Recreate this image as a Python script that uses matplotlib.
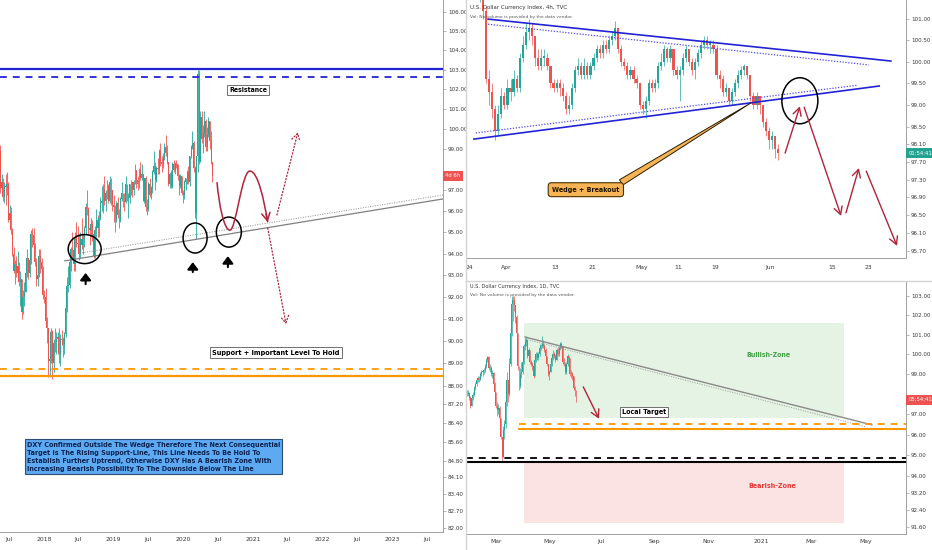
import numpy as np
import pandas as pd
import matplotlib
matplotlib.use('Agg')
import matplotlib.pyplot as plt
import matplotlib.dates as mdates
import matplotlib.transforms as mtransforms
import matplotlib.text as mtext
from matplotlib.patches import Ellipse, Rectangle, PathPatch
from matplotlib.path import Path
from matplotlib.lines import Line2D
from matplotlib.ticker import FixedLocator, FixedFormatter, NullLocator
from matplotlib import font_manager as fm

# ======================= DATA =======================
# ---- left panel: weekly DXY candles (week starting dates) ----
w_start = '2017-05-15'
w_open0 = 98.9
w_close = [97.1, 97.4, 96.7, 97.2, 97.15, 97.3, 95.6, 95.9, 95.1, 94.0,
           93.2, 93.5, 93.1, 93.4, 92.7, 92.8, 91.3, 92.0, 92.2, 93.1,
           93.8, 93.1, 93.7, 94.9, 94.85, 94.4, 93.6, 92.8, 93.0, 93.9,
           93.6, 93.3, 92.1, 92.0, 90.9, 90.6, 89.1, 89.2, 90.4, 89.0,
           89.9, 89.95, 90.1, 90.2, 89.4, 90.1, 90.05, 89.8, 90.3, 91.5,
           92.5, 92.55, 93.6, 94.2, 94.15, 93.5, 94.8, 94.5, 94.45, 94.0,
           94.7, 94.4, 94.7, 95.2, 96.2, 96.1, 95.2, 95.1, 95.4, 94.9,
           93.9, 95.1, 95.6, 95.2, 95.7, 96.4, 96.5, 97.0, 96.5, 96.9,
           97.2, 96.5, 97.4, 97.0, 96.3, 96.2, 95.6, 96.4, 95.8, 95.6,
           96.6, 96.9, 96.5, 96.45, 97.3, 96.6, 96.65, 97.3, 97.4, 97.0,
           97.4, 98.0, 97.5, 97.3, 98.0, 97.6, 97.8, 96.5, 97.6, 96.2,
           96.1, 97.3, 96.8, 97.1, 97.9, 98.2, 97.5, 98.1, 98.05, 98.9,
           98.4, 98.3, 98.6, 99.1, 98.8, 98.4, 97.3, 97.8, 97.2, 98.3,
           98.0, 98.3, 98.27, 97.7, 97.2, 97.7, 96.9, 96.8, 97.4, 97.6,
           97.9, 97.4, 98.7, 99.1, 99.3, 98.1, 95.9, 98.7, 102.8, 98.4,
           100.6, 99.5, 99.8, 100.4, 99.1, 99.7, 100.4, 99.4, 98.4, 97.7]
w_high = [99.2, 97.8, 97.6, 97.4, 97.8, 97.9, 97.4, 96.3, 96.2, 95.2,
          94.3, 93.7, 93.9, 94.1, 93.6, 93.2, 92.8, 92.3, 92.7, 93.5,
          94.2, 93.8, 93.9, 95.1, 95.2, 95.2, 94.5, 93.8, 93.3, 94.2,
          94.2, 93.8, 93.4, 92.3, 92.4, 91.1, 90.6, 89.5, 90.6, 90.5,
          90.1, 90.6, 90.4, 90.4, 90.6, 90.3, 90.5, 90.2, 90.4, 91.8,
          92.9, 93.4, 93.7, 94.3, 95.0, 94.2, 95.0, 95.5, 95.3, 94.9,
          95.0, 95.7, 94.9, 95.3, 96.4, 97.0, 96.2, 95.3, 95.7, 95.6,
          95.0, 95.3, 96.1, 95.8, 96.0, 96.7, 97.2, 97.3, 97.7, 97.0,
          97.5, 97.3, 97.7, 97.6, 97.0, 96.8, 96.3, 96.5, 96.7, 96.1,
          96.7, 97.4, 96.9, 96.9, 97.7, 97.3, 96.9, 97.3, 97.5, 97.4,
          97.5, 98.3, 98.0, 97.7, 98.1, 98.4, 98.3, 97.8, 97.6, 97.7,
          96.6, 97.4, 97.6, 97.2, 98.0, 98.9, 98.4, 98.2, 98.6, 99.0,
          99.3, 98.7, 98.8, 99.3, 99.7, 99.2, 98.4, 97.9, 98.0, 98.4,
          98.5, 98.4, 98.5, 98.3, 97.8, 97.8, 97.7, 97.0, 97.5, 97.6,
          98.0, 98.2, 98.7, 99.2, 99.9, 99.4, 98.2, 98.7, 103.0, 103.0,
          100.9, 100.9, 100.2, 100.9, 100.5, 100.1, 100.6, 100.4, 99.9, 98.4]
w_low = [96.9, 96.8, 96.5, 96.4, 96.3, 96.8, 95.5, 95.4, 94.9, 93.9,
         93.1, 92.6, 92.9, 93.0, 92.5, 91.6, 91.0, 91.2, 91.6, 92.2,
         92.9, 92.8, 92.9, 93.5, 94.3, 94.1, 93.4, 92.5, 92.5, 92.9,
         93.1, 93.0, 91.9, 91.7, 90.8, 89.9, 88.4, 88.4, 89.0, 88.3,
         88.6, 89.5, 89.4, 89.4, 89.0, 88.9, 89.8, 89.3, 89.4, 90.2,
         91.3, 92.2, 92.4, 93.2, 93.7, 93.2, 93.2, 94.3, 94.2, 93.7,
         93.8, 94.2, 94.0, 94.3, 94.9, 95.8, 94.9, 94.4, 94.8, 94.6,
         93.8, 93.8, 94.8, 94.8, 94.8, 95.6, 96.0, 95.9, 96.3, 96.0,
         96.6, 96.4, 96.4, 96.3, 96.0, 95.5, 95.0, 95.5, 95.7, 95.2,
         95.5, 96.5, 96.2, 96.0, 96.4, 96.5, 95.7, 96.4, 96.8, 96.7,
         96.8, 97.3, 97.1, 97.0, 97.1, 97.5, 97.5, 96.5, 96.4, 96.0,
         95.8, 96.0, 96.7, 96.6, 96.9, 97.8, 97.0, 97.4, 97.8, 97.8,
         98.2, 97.9, 98.1, 98.5, 98.7, 98.3, 97.2, 97.1, 97.1, 97.1,
         97.9, 97.8, 98.1, 97.5, 96.8, 97.1, 96.8, 96.4, 96.6, 97.0,
         97.3, 97.3, 97.2, 98.6, 99.0, 97.9, 95.7, 94.7, 97.9, 98.3,
         98.4, 99.3, 98.8, 99.6, 98.9, 98.9, 99.6, 99.0, 98.3, 97.4]

# ---- top-right panel: intraday candles (2 per trading day from 2020-03-24) ----
h_start = '2020-03-24'
h_open0 = 102.3
h_close = [101.9, 102.1, 101.8, 101.9, 101.2, 99.6, 99.3, 98.9, 98.4, 98.8,
           99.2, 99.0, 99.4, 99.3, 99.6, 99.4, 100.1, 100.4, 100.7, 100.8,
           100.6, 100.1, 99.9, 100.1, 100.1, 99.9, 99.5, 99.4, 99.5, 99.4,
           99.2, 98.9, 99.0, 99.4, 99.8, 99.9, 99.7, 99.9, 99.7, 99.9,
           100.1, 100.3, 100.2, 100.4, 100.3, 100.5, 100.6, 100.8, 100.3, 100.0,
           99.9, 99.7, 99.8, 99.6, 99.5, 99.0, 98.9, 99.1, 99.5, 99.4,
           99.5, 99.9, 100.0, 100.3, 100.1, 100.3, 99.8, 99.7, 99.8, 100.1,
           100.3, 100.0, 99.8, 100.0, 100.2, 100.4, 100.5, 100.4, 100.4, 100.3,
           99.7, 99.6, 99.3, 99.4, 99.1, 99.3, 99.5, 99.7, 99.8, 99.9,
           99.7, 99.2, 99.0, 99.2, 99.0, 98.6, 98.4, 98.2, 98.3, 98.0, 97.9]
h_high = [102.5, 102.3, 102.2, 102.0, 101.9, 101.3, 99.8, 99.5, 99.0, 99.0,
          99.4, 99.3, 99.6, 99.6, 99.8, 99.7, 100.2, 100.6, 100.9, 101.0,
          100.9, 100.6, 100.3, 100.3, 100.3, 100.2, 99.9, 99.6, 99.6, 99.6,
          99.5, 99.3, 99.2, 99.5, 99.9, 100.1, 100.0, 100.1, 100.0, 100.0,
          100.2, 100.4, 100.4, 100.5, 100.5, 100.6, 100.7, 100.95, 100.8, 100.4,
          100.1, 100.0, 99.9, 99.9, 99.7, 99.5, 99.1, 99.2, 99.6, 99.6,
          99.6, 100.0, 100.2, 100.4, 100.35, 100.4, 100.3, 99.9, 99.9, 100.2,
          100.4, 100.3, 100.1, 100.1, 100.3, 100.5, 100.6, 100.6, 100.5, 100.5,
          100.4, 99.8, 99.7, 99.5, 99.4, 99.4, 99.6, 99.8, 99.9, 99.95,
          99.9, 99.7, 99.3, 99.3, 99.2, 99.0, 98.7, 98.5, 98.4, 98.3, 98.1]
h_low = [101.6, 101.6, 101.6, 101.4, 101.0, 99.5, 99.0, 98.7, 98.2, 98.3,
         98.7, 98.9, 98.9, 99.1, 99.2, 99.3, 99.3, 100.0, 100.3, 100.5,
         100.4, 99.9, 99.8, 99.8, 99.9, 99.8, 99.4, 99.3, 99.3, 99.2,
         99.1, 98.8, 98.8, 98.9, 99.3, 99.7, 99.6, 99.6, 99.6, 99.6,
         99.8, 100.0, 100.1, 100.1, 100.2, 100.2, 100.4, 100.5, 100.2, 99.9,
         99.8, 99.6, 99.6, 99.5, 99.4, 98.9, 98.8, 98.7, 99.0, 99.3,
         99.3, 99.4, 99.8, 99.9, 100.0, 100.0, 99.7, 99.6, 99.1, 99.7,
         100.0, 99.9, 99.7, 99.6, 99.9, 100.1, 100.3, 100.3, 100.2, 100.2,
         99.6, 99.4, 99.2, 99.2, 99.0, 99.0, 99.2, 99.4, 99.6, 99.7,
         99.6, 99.1, 98.9, 98.9, 98.8, 98.5, 98.3, 98.0, 98.0, 97.8, 97.75]

# ---- bottom-right panel: daily candles ----
d_start, d_end = '2020-01-23', '2020-06-02'
d_open0 = 97.7
d_close = [97.86, 97.87, 97.98, 98.0, 98.05, 97.8, 97.39,
           97.8, 97.97, 98.3, 98.5, 98.7, 98.8, 98.7, 99.0, 99.1, 99.1,
           99.2, 99.4, 99.7, 99.85, 99.3, 99.3, 99.0, 99.05, 98.5, 98.1,
           97.4, 97.2, 97.3, 96.8, 95.9, 94.9, 96.2, 96.5, 97.6, 98.7,
           98.0, 99.5, 101.1, 102.6, 102.8, 102.5, 101.9, 101.1, 99.4, 98.4,
           99.0, 99.1, 99.6, 100.4, 100.6, 100.7, 99.9, 100.2, 99.6, 99.5,
           99.4, 98.9, 99.7, 100.0, 99.8, 100.0, 100.3, 100.4, 100.5, 100.4,
           100.2, 99.9, 99.5, 99.0, 99.1, 99.5, 99.8, 100.0, 99.9, 99.7,
           100.2, 100.0, 100.3, 100.5, 100.4, 99.6, 99.5, 99.1, 99.5, 99.9,
           99.8, 99.0, 99.0, 98.9, 98.3, 98.2, 97.7]
d_high = [97.95, 98.1, 98.1, 98.2, 98.2, 98.1, 97.9,
          97.9, 98.1, 98.4, 98.6, 98.8, 98.9, 98.9, 99.1, 99.2, 99.2,
          99.3, 99.5, 99.8, 99.9, 99.9, 99.5, 99.4, 99.2, 99.1, 98.6,
          98.0, 97.6, 97.5, 97.4, 96.8, 95.9, 96.4, 96.7, 97.9, 99.1,
          98.6, 99.8, 101.5, 103.0, 103.0, 103.0, 102.5, 102.0, 101.1, 99.4,
          99.3, 99.6, 99.7, 100.5, 100.8, 100.9, 100.7, 100.3, 100.2, 99.7,
          99.6, 99.4, 99.8, 100.1, 100.1, 100.1, 100.5, 100.5, 100.9, 100.7,
          100.5, 100.3, 99.9, 99.5, 99.2, 99.6, 99.9, 100.2, 100.1, 100.0,
          100.3, 100.3, 100.4, 100.6, 100.6, 100.4, 99.8, 99.6, 99.6, 100.0,
          99.9, 99.8, 99.2, 99.1, 98.9, 98.4, 98.2]
d_low = [97.6, 97.7, 97.8, 97.9, 97.9, 97.7, 97.3,
         97.4, 97.7, 97.9, 98.2, 98.4, 98.6, 98.6, 98.7, 98.9, 98.9,
         99.0, 99.1, 99.3, 99.6, 99.2, 99.1, 98.9, 98.8, 98.4, 97.9,
         97.3, 96.9, 97.0, 96.6, 95.8, 94.65, 94.9, 95.8, 96.3, 97.4,
         97.6, 97.9, 99.4, 100.9, 101.7, 102.2, 101.6, 100.9, 99.2, 98.2,
         98.3, 98.8, 99.0, 99.5, 100.2, 100.4, 99.8, 99.8, 99.5, 99.4,
         99.2, 98.8, 98.9, 99.6, 99.7, 99.7, 99.9, 100.2, 100.3, 100.3,
         100.1, 99.8, 99.4, 98.9, 98.7, 99.1, 99.4, 99.7, 99.8, 99.6,
         99.7, 99.9, 99.9, 100.2, 100.3, 99.5, 99.4, 99.0, 99.0, 99.4,
         99.7, 98.9, 98.8, 98.7, 98.2, 97.9, 97.6]

# ---- tick values ----
L_yticks = [106, 105, 104, 103, 102, 101, 100, 99, 97, 96, 95, 94, 93, 92, 91,
            90, 89, 88, 87.2, 86.4, 85.6, 84.8, 84.1, 83.4, 82.7, 82.0]
L_xtick_dates = ['2017-07-01', '2018-01-01', '2018-07-01', '2019-01-01', '2019-07-01',
                 '2020-01-01', '2020-07-01', '2021-01-01', '2021-07-01', '2022-01-01',
                 '2022-07-01', '2023-01-01', '2023-07-01']
T_yticks = [101, 100.5, 100, 99.5, 99, 98.5, 98.1, 97.7, 97.3, 96.9, 96.5, 96.1, 95.7]
T_xtick_dates = ['2020-03-24', '2020-04-01', '2020-04-13', '2020-04-21', '2020-05-01',
                 '2020-05-11', '2020-05-19', '2020-06-01', '2020-06-15', '2020-06-23']
B_yticks = [103, 102, 101, 100, 99, 97, 96, 95, 94, 93.2, 92.4, 91.6]
B_xtick_dates = ['2020-03-01', '2020-05-01', '2020-07-01', '2020-09-01', '2020-11-01',
                 '2021-01-01', '2021-03-01', '2021-05-01']

# ---- annotation anchors (date / bar index, price) ----
L_res_levels = [103.02, 102.65]
L_sup_levels = [88.76, 88.43]
L_trend = [('2018-04-21', 93.66), ('2023-09-25', 96.59)]
L_trend_dot = [('2018-07-08', 94.02), ('2023-09-25', 96.78)]
L_circles = [('2018-08-03', 94.21), ('2020-03-04', 94.73), ('2020-08-28', 95.01)]
L_uparrows = [('2018-08-08', 92.58, 93.10), ('2020-02-21', 93.14, 93.60), ('2020-08-23', 93.37, 93.88)]
L_curve = [('2020-06-27', 97.40), ('2020-07-07', 96.30), ('2020-08-03', 95.10), ('2020-09-03', 95.10),
           ('2020-10-04', 95.10), ('2020-11-04', 97.94), ('2020-12-16', 97.94),
           ('2021-01-28', 97.94), ('2021-02-28', 96.54), ('2021-03-20', 95.48)]
L_curve_head = ('2021-03-11', 95.87)
L_dot_up = [('2021-05-07', 95.82), ('2021-08-25', 99.85)]
L_dot_dn = [('2021-03-20', 95.20), ('2021-06-24', 90.76)]
L_res_label = ('2020-12-06', 101.98)
L_sup_label = ('2021-05-01', 89.48)
L_note_anchor = ('2017-10-04', 84.97)

T_upper = [(3.1, 101.0), (68.6, 100.02)]
T_upper_dot = [(3.1, 100.88), (65.0, 99.93)]
T_lower = [(0.8, 98.22), (66.7, 99.44)]
T_lower_dot = [(1.1, 98.36), (63.25, 99.46)]
T_circle = (53.8, 99.10)
T_zigzag = [((51.4, 97.90), (53.8, 98.97)), ((54.5, 98.95), (60.5, 96.48)),
            ((61.3, 96.55), (63.4, 97.56)), ((64.6, 97.49), (69.6, 95.81))]
T_wedge_label = (19.0, 97.07)
T_wedge_tip = (45.85, 99.05)

B_bull = (('2020-04-02', 96.81), ('2021-04-07', 101.6))
B_bear = (('2020-04-02', 91.78), ('2021-04-07', 94.67))
B_trend = [('2020-04-03', 100.87), ('2021-05-10', 96.47)]
B_trend_dot = [('2020-04-03', 100.77), ('2021-05-03', 96.38)]
B_orange_start = '2020-03-27'
B_orange_levels = [96.52, 96.29]
B_black_levels = [94.85, 94.69]
B_local_label = ('2020-08-19', 97.11)
B_arrow = [('2020-06-10', 98.35), ('2020-06-29', 96.77)]
B_bull_label = ('2021-01-11', 99.96)
B_bear_label = ('2021-01-14', 93.52)

# ======================= STYLE / HELPERS =======================
GREEN, RED = '#26a69a', '#ef5350'
AX_TXT, SPINE = '#3a3a3a', '#a0a0a0'
BLUE, BLUE_DOT = '#2323d6', '#4a4af0'
ORANGE = '#ff9800'
ARROW_RED = '#b0243a'

_fonts = fm.fontManager.ttflist
if any(f.name == 'Liberation Sans Narrow' for f in _fonts):
    NOTE_KW = dict(family='Liberation Sans Narrow', weight='bold')
elif any(f.name == 'DejaVu Sans' and f.stretch == 'condensed' for f in _fonts):
    NOTE_KW = dict(family='DejaVu Sans', stretch='condensed', weight='bold')
else:
    NOTE_KW = dict(family='DejaVu Sans', weight='bold')

fig = plt.figure(figsize=(9.32, 5.5), dpi=100)
fig.patch.set_facecolor('white')
FW, FH = 932.0, 550.0
axL = fig.add_axes([0, (FH - 532) / FH, 443 / FW, 532 / FH])
axT = fig.add_axes([466 / FW, (FH - 258) / FH, 440 / FW, 258 / FH])
axB = fig.add_axes([466 / FW, (FH - 534) / FH, 440 / FW, 252 / FH])


def style_axis(ax, yticks, xpad):
    ax.set_yscale('log')
    ax.yaxis.tick_right()
    ax.yaxis.set_major_locator(FixedLocator(yticks))
    ax.yaxis.set_major_formatter(FixedFormatter([f'{v:.2f}' for v in yticks]))
    ax.yaxis.set_minor_locator(NullLocator())
    ax.tick_params(axis='y', which='major', labelsize=4.1, labelcolor=AX_TXT,
                   length=2, width=0.5, pad=1.5, color=SPINE)
    ax.tick_params(axis='x', which='major', labelsize=4.4, labelcolor=AX_TXT,
                   length=0, pad=xpad)
    for s in ('top', 'left'):
        ax.spines[s].set_visible(False)
    for s in ('right', 'bottom'):
        ax.spines[s].set_color(SPINE)
        ax.spines[s].set_linewidth(0.7)


def draw_candles(ax, x, o, c, h, l, width, lw):
    o = np.asarray(o, float); c = np.asarray(c, float)
    h = np.maximum(np.asarray(h, float), np.maximum(o, c))
    l = np.minimum(np.asarray(l, float), np.minimum(o, c))
    col = np.where(c >= o, GREEN, RED)
    ax.vlines(x, l, h, colors=col, lw=lw, zorder=2)
    body = np.maximum(np.abs(c - o), 0.03)
    ax.bar(x, body, bottom=np.minimum(o, c), width=width, color=col, lw=0, zorder=2.1)


def px_ellipse(ax, x, y, wpx, hpx, lw=1.1):
    tr = fig.dpi_scale_trans + mtransforms.ScaledTranslation(x, y, ax.transData)
    ax.add_patch(Ellipse((0, 0), wpx / fig.dpi, hpx / fig.dpi, transform=tr,
                         fill=False, ec='black', lw=lw, zorder=6, clip_on=False))


def arrow(ax, p0, p1, color, lw=1.0, ls='-', style='->,head_width=0.25,head_length=0.5'):
    ax.annotate('', xy=p1, xytext=p0,
                arrowprops=dict(arrowstyle=style, color=color, lw=lw, ls=ls,
                                shrinkA=0, shrinkB=0, mutation_scale=10), zorder=6)


def price_tag(ax, price, text, color):
    tr = mtransforms.blended_transform_factory(ax.transAxes, ax.transData)
    ax.text(1.005, price, text, transform=tr, ha='left', va='center', fontsize=3.8,
            color='white', bbox=dict(boxstyle='square,pad=0.45', fc=color, ec='none'),
            clip_on=False, zorder=10)


D = lambda s: mdates.date2num(pd.Timestamp(s))
fit_list = []

# ======================= LEFT PANEL =======================
style_axis(axL, L_yticks, 3.5)
w_dates = pd.date_range(w_start, periods=len(w_close), freq='W-MON')
wx = mdates.date2num(w_dates) + 2
w_open = np.r_[w_open0, w_close[:-1]]
draw_candles(axL, wx, w_open, w_close, w_high, w_low, 5.0, 0.6)
axL.set_xlim(D('2017-05-16'), D('2023-09-25'))
axL.set_ylim(81.84, 106.64)
xt = pd.to_datetime(L_xtick_dates)
axL.xaxis.set_major_locator(FixedLocator(mdates.date2num(xt)))
axL.xaxis.set_major_formatter(FixedFormatter([str(d.year) if d.month == 1 else d.strftime('%b') for d in xt]))

axL.axhline(L_res_levels[0], color=BLUE, lw=1.6, zorder=3)
axL.axhline(L_res_levels[1], color=BLUE, lw=1.3, dashes=(3.8, 3.3), zorder=3)
axL.axhline(L_sup_levels[0], color=ORANGE, lw=1.3, dashes=(3.8, 3.3), zorder=3)
axL.axhline(L_sup_levels[1], color=ORANGE, lw=1.6, zorder=3)
axL.plot([D(d) for d, _ in L_trend], [p for _, p in L_trend], color='#7f7f7f', lw=0.9, zorder=3)
axL.plot([D(d) for d, _ in L_trend_dot], [p for _, p in L_trend_dot], color='#8c8c8c', lw=0.7,
         ls=(0, (1, 1.5)), zorder=3)
for (d, p), (w, h) in zip(L_circles, [(33, 29), (24, 30), (25, 30)]):
    px_ellipse(axL, D(d), p, w, h)
for d, p0, p1 in L_uparrows:
    arrow(axL, (D(d), p0), (D(d), p1), 'black', lw=1.5,
          style='-|>,head_width=0.32,head_length=0.42')
verts = [(D(d), p) for d, p in L_curve]
codes = [Path.MOVETO] + [Path.CURVE4] * 9
axL.add_patch(PathPatch(Path(verts, codes), fill=False, ec=ARROW_RED, lw=1.1, zorder=6))
arrow(axL, (D(L_curve_head[0]), L_curve_head[1]), verts[-1], ARROW_RED, lw=1.1,
      style='->,head_width=0.3,head_length=0.55')
arrow(axL, (D(L_dot_up[0][0]), L_dot_up[0][1]), (D(L_dot_up[1][0]), L_dot_up[1][1]),
      ARROW_RED, lw=0.9, ls=':', style='->,head_width=0.3,head_length=0.5')
arrow(axL, (D(L_dot_dn[0][0]), L_dot_dn[0][1]), (D(L_dot_dn[1][0]), L_dot_dn[1][1]),
      ARROW_RED, lw=0.9, ls=':', style='->,head_width=0.3,head_length=0.5')

t = axL.text(D(L_res_label[0]), L_res_label[1], 'Resistance', ha='center', va='center',
             fontsize=7, color='black', zorder=8,
             bbox=dict(boxstyle='square,pad=0.3', fc='white', ec='#6f6f6f', lw=0.7), **NOTE_KW)
fit_list.append((t, 38))
t = axL.text(D(L_sup_label[0]), L_sup_label[1], 'Support + Important Level To Hold', ha='center',
             va='center', fontsize=7, color='black', zorder=8,
             bbox=dict(boxstyle='square,pad=0.3', fc='white', ec='#6f6f6f', lw=0.7), **NOTE_KW)
fit_list.append((t, 127))
note = ('DXY Confirmed Outside The Wedge Therefore The Next Consequential\n'
        'Target Is The Rising Support-Line, This Line Needs To Be Hold To\n'
        'Establish Further Uptrend, Otherwise DXY Has A Bearish Zone With\n'
        'Increasing Bearish Possibility To The Downside Below The Line')
t = axL.text(D(L_note_anchor[0]), L_note_anchor[1], note, ha='left', va='center', fontsize=7,
             color='#0b2250', linespacing=1.4, zorder=8,
             bbox=dict(boxstyle='square,pad=0.3', fc='#5daaf2', ec='#2d4d73', lw=0.8), **NOTE_KW)
fit_list.append((t, 256))
price_tag(axL, w_close[-1], '4d 6h', RED)

# ======================= TOP-RIGHT PANEL =======================
style_axis(axT, T_yticks, 5)
hx = np.arange(len(h_close)) / 2 + 0.25
h_open = np.r_[h_open0, h_close[:-1]]
draw_candles(axT, hx, h_open, h_close, h_high, h_low, 0.36, 0.5)
axT.set_xlim(-0.49, 71.06)
axT.set_ylim(95.54, 101.45)
tdates = pd.to_datetime(T_xtick_dates)
tpos = [np.busday_count(np.datetime64(h_start), np.datetime64(d.date())) for d in tdates]
axT.xaxis.set_major_locator(FixedLocator(tpos))
axT.xaxis.set_major_formatter(FixedFormatter([d.strftime('%b') if d.day == 1 else str(d.day) for d in tdates]))

for seg, ls, col, lw in [(T_upper, '-', BLUE, 1.2), (T_lower, '-', BLUE, 1.2),
                         (T_upper_dot, (0, (1, 1.3)), BLUE_DOT, 0.9),
                         (T_lower_dot, (0, (1, 1.3)), BLUE_DOT, 0.9)]:
    axT.plot([a for a, _ in seg], [b for _, b in seg], color=col, lw=lw, ls=ls, zorder=3)
px_ellipse(axT, T_circle[0], T_circle[1], 36, 46)
for p0, p1 in T_zigzag:
    arrow(axT, p0, p1, ARROW_RED, lw=1.0, style='->,head_width=0.3,head_length=0.55')
t = axT.annotate('Wedge + Breakout', xy=T_wedge_tip, xytext=T_wedge_label, ha='center',
                 va='center', fontsize=7, color='#1a1200', zorder=8,
                 bbox=dict(boxstyle='round,pad=0.55,rounding_size=0.45', fc='#f7b455',
                           ec='#4a3000', lw=0.8),
                 arrowprops=dict(arrowstyle='wedge,tail_width=0.45,shrink_factor=0.5',
                                 fc='#f7b455', ec='#2b1d00', lw=0.7, shrinkA=0, shrinkB=0,
                                 relpos=(0.92, 1.0), mutation_scale=10),
                 **NOTE_KW)
fit_list.append((t, 68))
t = axT.text(0.009, 0.969, 'U.S. Dollar Currency Index, 4h, TVC', transform=axT.transAxes,
             fontsize=4.5, color='#333333', va='center', ha='left', zorder=9)
fit_list.append((t, 99))
t = axT.text(0.009, 0.934, 'Vol: No volume is provided by the data vendor.', transform=axT.transAxes,
             fontsize=4.5, color='#555555', va='center', ha='left', zorder=9)
fit_list.append((t, 105))
price_tag(axT, h_close[-1], '01:54:41', '#22a38f')

# ======================= BOTTOM-RIGHT PANEL =======================
style_axis(axB, B_yticks, 3.5)
base = np.datetime64('2020-01-01')
BI = lambda s: np.busday_count(base, np.datetime64(pd.Timestamp(s).date()))
d_dates = pd.bdate_range(d_start, d_end)
dx = np.array([BI(d) for d in d_dates])
d_open = np.r_[d_open0, d_close[:-1]]
draw_candles(axB, dx, d_open, d_close, d_high, d_low, 0.8, 0.5)
axB.set_xlim(18.3, 381.1)
axB.set_ylim(91.27, 103.73)
bdates = pd.to_datetime(B_xtick_dates)
bpos = [np.busday_count(base, np.busday_offset(np.datetime64(d.date()), 0, roll='forward')) for d in bdates]
axB.xaxis.set_major_locator(FixedLocator(bpos))
axB.xaxis.set_major_formatter(FixedFormatter([str(d.year) if d.month == 1 else d.strftime('%b') for d in bdates]))

for (a, b), fc in [(B_bull, '#e4f3e4'), (B_bear, '#fce3e3')]:
    axB.add_patch(Rectangle((BI(a[0]), a[1]), BI(b[0]) - BI(a[0]), b[1] - a[1], fc=fc, ec='none', zorder=1))
axB.plot([BI(d) for d, _ in B_trend], [p for _, p in B_trend], color='#8a8a8a', lw=1.0, zorder=3)
axB.plot([BI(d) for d, _ in B_trend_dot], [p for _, p in B_trend_dot], color='#9a9a9a', lw=0.7,
         ls=(0, (1, 1.5)), zorder=3)
xo = BI(B_orange_start)
axB.plot([xo, 381.1], [B_orange_levels[0]] * 2, color=ORANGE, lw=1.3, dashes=(3.8, 3.3), zorder=3)
axB.plot([xo, 381.1], [B_orange_levels[1]] * 2, color=ORANGE, lw=1.5, zorder=3)
axB.axhline(B_black_levels[0], color='black', lw=1.3, dashes=(3.8, 3.3), zorder=3)
axB.axhline(B_black_levels[1], color='black', lw=1.5, zorder=3)
arrow(axB, (BI(B_arrow[0][0]), B_arrow[0][1]), (BI(B_arrow[1][0]), B_arrow[1][1]), ARROW_RED,
      lw=1.0, style='->,head_width=0.3,head_length=0.55')
t = axB.text(BI(B_local_label[0]), B_local_label[1], 'Local Target', ha='center', va='center',
             fontsize=7, color='black', zorder=8,
             bbox=dict(boxstyle='square,pad=0.3', fc='white', ec='#6f6f6f', lw=0.7), **NOTE_KW)
fit_list.append((t, 44))
t = axB.text(BI(B_bull_label[0]), B_bull_label[1], 'Bullish-Zone', ha='center', va='center',
             fontsize=7, color='#43a047', zorder=8, **NOTE_KW)
fit_list.append((t, 45))
t = axB.text(BI(B_bear_label[0]), B_bear_label[1], 'Bearish-Zone', ha='center', va='center',
             fontsize=7, color='#e53935', zorder=8, **NOTE_KW)
fit_list.append((t, 48))
t = axB.text(0.009, 0.984, 'U.S. Dollar Currency Index, 1D, TVC', transform=axB.transAxes,
             fontsize=4.5, color='#333333', va='center', ha='left', zorder=9)
fit_list.append((t, 89))
t = axB.text(0.009, 0.948, 'Vol: No volume is provided by the data vendor.', transform=axB.transAxes,
             fontsize=4.5, color='#555555', va='center', ha='left', zorder=9)
fit_list.append((t, 106))
price_tag(axB, d_close[-1], '05:54:41', RED)

# panel dividers
fig.add_artist(Line2D([466 / FW] * 2, [0, 1], transform=fig.transFigure, color='#d4d4d4', lw=1.0))
fig.add_artist(Line2D([466 / FW, 1], [(FH - 281) / FH] * 2, transform=fig.transFigure,
                      color='#d4d4d4', lw=1.0))

# fit annotation text widths to the reference (text extent only, no arrow / box)
fig.canvas.draw()
_r = fig.canvas.get_renderer()
for t, wpx in fit_list:
    bb = mtext.Text.get_window_extent(t, _r)
    if bb.width > 0:
        t.set_fontsize(t.get_fontsize() * wpx / bb.width)

fig.savefig('out.png', dpi=100, facecolor='white')
